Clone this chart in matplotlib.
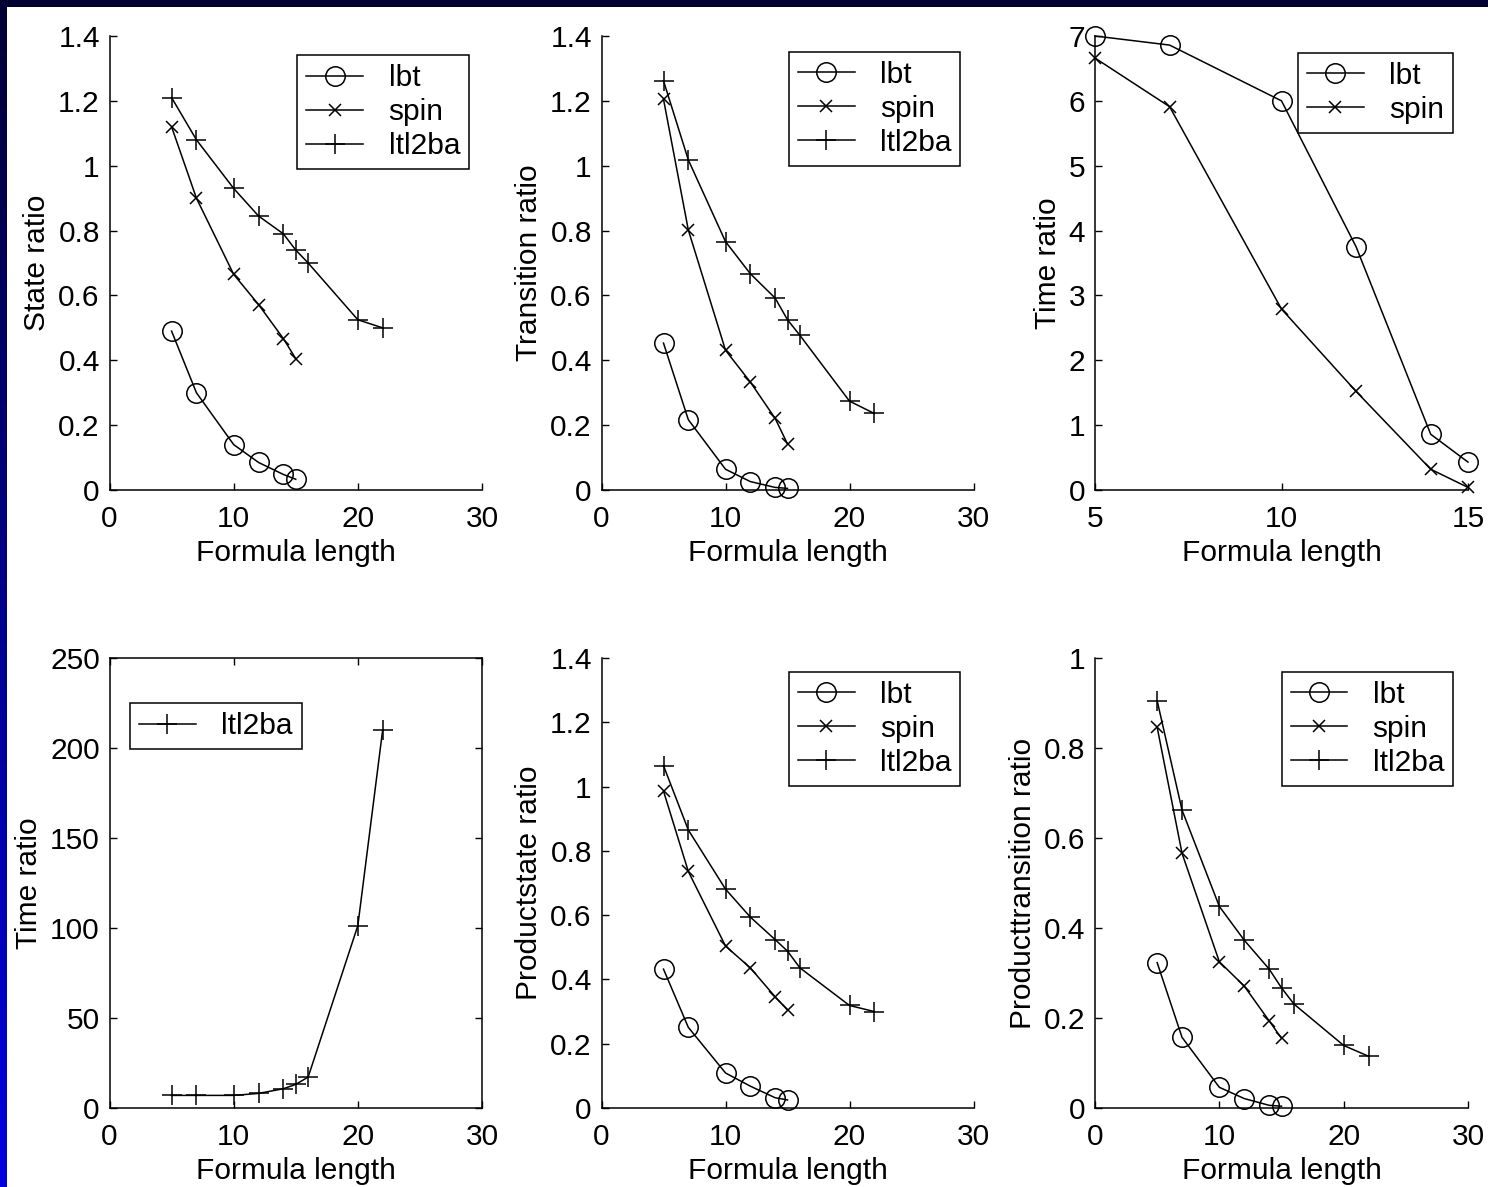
import numpy as np
import matplotlib
matplotlib.use('Agg')
import matplotlib.pyplot as plt
from matplotlib.ticker import FuncFormatter

plt.rcParams['font.family'] = ['Liberation Sans', 'DejaVu Sans']
plt.rcParams['font.size'] = 21.5

# formula lengths used in the benchmarks
len_short = [5, 7, 10, 12, 14, 15]
len_long = [5, 7, 10, 12, 14, 15, 16, 20, 22]

state_lbt = [0.49, 0.30, 0.14, 0.085, 0.048, 0.033]
state_spin = [1.12, 0.90, 0.665, 0.572, 0.467, 0.405]
state_ltl2ba = [1.21, 1.08, 0.93, 0.845, 0.79, 0.74, 0.70, 0.525, 0.50]

trans_lbt = [0.453, 0.217, 0.064, 0.026, 0.008, 0.005]
trans_spin = [1.205, 0.802, 0.431, 0.333, 0.221, 0.142]
trans_ltl2ba = [1.262, 1.018, 0.766, 0.667, 0.592, 0.525, 0.477, 0.274, 0.236]

time_lbt = [7.0, 6.86, 6.0, 3.75, 0.86, 0.43]
time_spin = [6.66, 5.91, 2.79, 1.52, 0.32, 0.04]
time_ltl2ba = [7.0, 7.0, 7.0, 8.1, 10.7, 13.1, 17.2, 101.3, 210.0]

pstate_lbt = [0.432, 0.251, 0.109, 0.068, 0.032, 0.025]
pstate_spin = [0.986, 0.736, 0.504, 0.436, 0.346, 0.305]
pstate_ltl2ba = [1.065, 0.865, 0.681, 0.594, 0.524, 0.488, 0.436, 0.319, 0.300]

ptrans_lbt = [0.323, 0.157, 0.046, 0.021, 0.006, 0.004]
ptrans_spin = [0.846, 0.566, 0.325, 0.271, 0.194, 0.155]
ptrans_ltl2ba = [0.905, 0.662, 0.448, 0.373, 0.309, 0.267, 0.231, 0.139, 0.115]

W, H = 1488, 1187
MARKERS = {'lbt': ('o', 14), 'spin': ('x', 9), 'ltl2ba': ('+', 14)}
fmt = FuncFormatter(lambda v, pos: f'{v:g}')


def make_axes(fig, x0, y0, x1, y1):
    return fig.add_axes([x0 / W, 1 - y1 / H, (x1 - x0) / W, (y1 - y0) / H])


def style(ax, xlim, xticks, ylim, yticks, ylabel, box=False):
    ax.set_xlim(xlim)
    ax.set_ylim(ylim)
    ax.set_xticks(xticks)
    ax.set_yticks(yticks)
    ax.xaxis.set_major_formatter(fmt)
    ax.yaxis.set_major_formatter(fmt)
    ax.set_xlabel('Formula length', labelpad=4)
    ax.set_ylabel(ylabel, labelpad=5)
    for s in ax.spines.values():
        s.set_linewidth(1.1)
    ax.spines['top'].set_visible(box)
    ax.spines['right'].set_visible(box)
    ax.tick_params(direction='in', length=5, width=1, top=box, right=box)
    ax.tick_params(axis='x', pad=11)
    ax.tick_params(axis='y', pad=7)


def draw(ax, series):
    for label, x, y in series:
        m, ms = MARKERS[label]
        ax.plot(x, y, color='k', lw=1.1, marker=m, ms=ms, mew=1.1,
                mfc='none', label=label, clip_on=False)


def add_legend(ax, loc, anchor):
    leg = ax.legend(loc=loc, bbox_to_anchor=anchor, borderaxespad=0,
                    fancybox=False, framealpha=1, edgecolor='k',
                    handlelength=1.9, handletextpad=0.85, labelspacing=0.2,
                    borderpad=0.3)
    leg.get_frame().set_linewidth(1.1)


fig = plt.figure(figsize=(W / 100, H / 100), dpi=100)
fig.patch.set_facecolor('white')

# dark slide frame: top bar and a blue gradient on the left
bar = fig.add_axes([0, 1 - 7 / H, 1, 7 / H])
bar.set_axis_off()
bar.add_patch(plt.Rectangle((0, 0), 1, 1, color='#000033'))
side = fig.add_axes([0, 0, 7 / W, 1])
side.set_axis_off()
grad = np.linspace(0, 1, 256).reshape(-1, 1)
side.imshow(np.dstack([np.zeros_like(grad), np.zeros_like(grad),
                       0.2 + 0.68 * grad]), aspect='auto')

cols = [(109.5, 482), (601.5, 973.5), (1095, 1468)]
top_row = (36, 490)
bot_row = (658, 1108)

ax = make_axes(fig, cols[0][0], top_row[0], cols[0][1], top_row[1])
draw(ax, [('lbt', len_short, state_lbt), ('spin', len_short, state_spin),
          ('ltl2ba', len_long, state_ltl2ba)])
style(ax, (0, 30), [0, 10, 20, 30], (0, 1.4), np.arange(0, 1.41, 0.2), 'State ratio')
add_legend(ax, 'upper right', (0.965, 0.958))

ax = make_axes(fig, cols[1][0], top_row[0], cols[1][1], top_row[1])
draw(ax, [('lbt', len_short, trans_lbt), ('spin', len_short, trans_spin),
          ('ltl2ba', len_long, trans_ltl2ba)])
style(ax, (0, 30), [0, 10, 20, 30], (0, 1.4), np.arange(0, 1.41, 0.2), 'Transition ratio')
add_legend(ax, 'upper right', (0.965, 0.965))

ax = make_axes(fig, cols[2][0], top_row[0], cols[2][1], top_row[1])
draw(ax, [('lbt', len_short, time_lbt), ('spin', len_short, time_spin)])
style(ax, (5, 15), [5, 10, 15], (0, 7), range(0, 8), 'Time ratio')
add_legend(ax, 'upper right', (0.96, 0.963))

ax = make_axes(fig, cols[0][0], bot_row[0], cols[0][1], bot_row[1])
draw(ax, [('ltl2ba', len_long, time_ltl2ba)])
style(ax, (0, 30), [0, 10, 20, 30], (0, 250), range(0, 251, 50), 'Time ratio', box=True)
add_legend(ax, 'upper left', (0.055, 0.90))

ax = make_axes(fig, cols[1][0], bot_row[0], cols[1][1], bot_row[1])
draw(ax, [('lbt', len_short, pstate_lbt), ('spin', len_short, pstate_spin),
          ('ltl2ba', len_long, pstate_ltl2ba)])
style(ax, (0, 30), [0, 10, 20, 30], (0, 1.4), np.arange(0, 1.41, 0.2), 'Productstate ratio')
add_legend(ax, 'upper right', (0.965, 0.969))

ax = make_axes(fig, cols[2][0], bot_row[0], cols[2][1], bot_row[1])
draw(ax, [('lbt', len_short, ptrans_lbt), ('spin', len_short, ptrans_spin),
          ('ltl2ba', len_long, ptrans_ltl2ba)])
style(ax, (0, 30), [0, 10, 20, 30], (0, 1), np.arange(0, 1.01, 0.2), 'Producttransition ratio')
add_legend(ax, 'upper right', (0.96, 0.969))

fig.savefig('out.png', dpi=100)
